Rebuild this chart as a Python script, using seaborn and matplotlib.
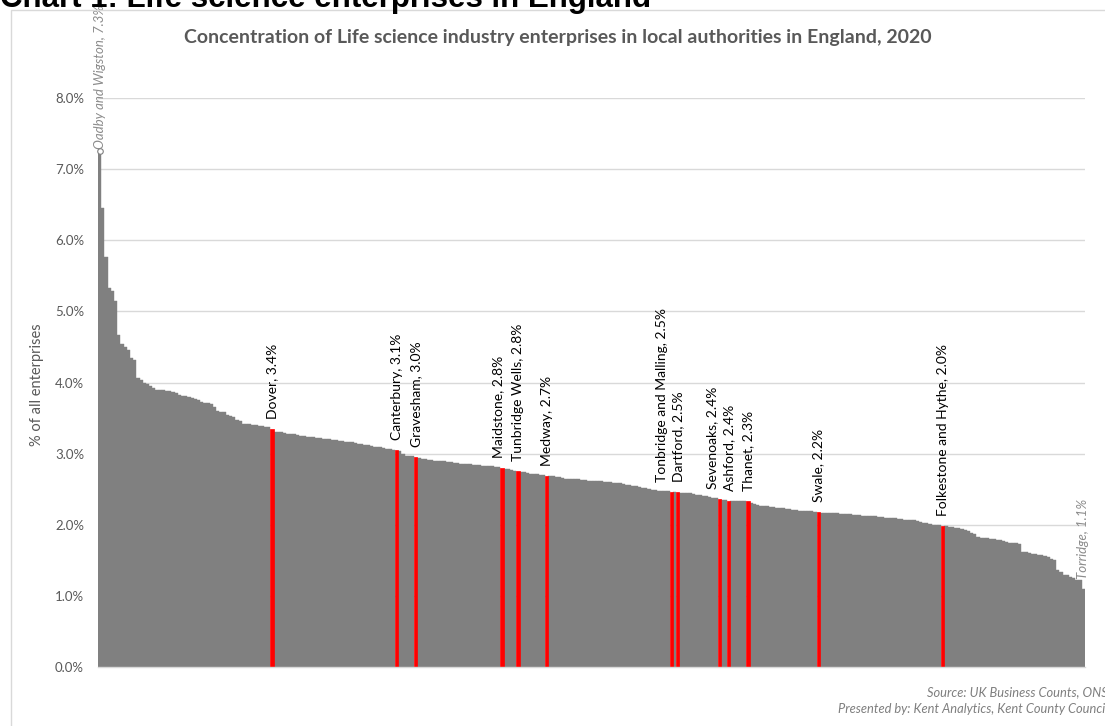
import matplotlib
matplotlib.use("Agg")
import matplotlib.pyplot as plt
import seaborn as sns
import pandas as pd
from matplotlib.patches import Rectangle

# ---------------- data ----------------
share = [
    7.25, 6.45, 5.77, 5.33, 5.28, 5.14, 4.67, 4.54, 4.50, 4.46,
    4.34, 4.32, 4.06, 4.04, 4.00, 3.98, 3.95, 3.92, 3.90, 3.89,
    3.89, 3.88, 3.88, 3.87, 3.85, 3.82, 3.81, 3.81, 3.80, 3.78,
    3.77, 3.76, 3.73, 3.71, 3.71, 3.70, 3.66, 3.60, 3.59, 3.58,
    3.54, 3.53, 3.51, 3.47, 3.46, 3.42, 3.41, 3.41, 3.40, 3.40,
    3.39, 3.39, 3.38, 3.37, 3.35, 3.31, 3.30, 3.30, 3.29, 3.28,
    3.27, 3.27, 3.26, 3.25, 3.25, 3.24, 3.23, 3.23, 3.22, 3.22,
    3.21, 3.21, 3.20, 3.19, 3.19, 3.18, 3.18, 3.17, 3.16, 3.16,
    3.15, 3.14, 3.13, 3.12, 3.12, 3.11, 3.10, 3.10, 3.09, 3.08,
    3.07, 3.06, 3.05, 3.05, 3.04, 2.99, 2.97, 2.97, 2.96, 2.95,
    2.94, 2.93, 2.92, 2.91, 2.91, 2.90, 2.90, 2.89, 2.89, 2.88,
    2.88, 2.87, 2.87, 2.86, 2.86, 2.85, 2.85, 2.84, 2.84, 2.84,
    2.83, 2.83, 2.82, 2.82, 2.81, 2.81, 2.80, 2.79, 2.78, 2.77,
    2.76, 2.75, 2.74, 2.74, 2.73, 2.72, 2.72, 2.71, 2.70, 2.70,
    2.69, 2.68, 2.68, 2.67, 2.67, 2.66, 2.65, 2.65, 2.64, 2.64,
    2.64, 2.63, 2.63, 2.62, 2.62, 2.62, 2.61, 2.61, 2.60, 2.60,
    2.60, 2.59, 2.59, 2.58, 2.57, 2.56, 2.56, 2.55, 2.54, 2.53,
    2.52, 2.51, 2.50, 2.49, 2.49, 2.48, 2.48, 2.47, 2.47, 2.46,
    2.46, 2.46, 2.45, 2.45, 2.44, 2.44, 2.43, 2.42, 2.42, 2.41,
    2.40, 2.39, 2.38, 2.37, 2.36, 2.35, 2.35, 2.34, 2.34, 2.34,
    2.33, 2.33, 2.33, 2.33, 2.30, 2.29, 2.28, 2.27, 2.27, 2.26,
    2.25, 2.25, 2.24, 2.24, 2.23, 2.22, 2.22, 2.21, 2.21, 2.20,
    2.20, 2.19, 2.19, 2.19, 2.18, 2.18, 2.17, 2.17, 2.17, 2.16,
    2.16, 2.16, 2.15, 2.15, 2.15, 2.15, 2.14, 2.14, 2.14, 2.13,
    2.13, 2.12, 2.12, 2.12, 2.11, 2.11, 2.10, 2.10, 2.09, 2.09,
    2.08, 2.08, 2.07, 2.07, 2.06, 2.06, 2.05, 2.04, 2.03, 2.02,
    2.01, 2.00, 1.99, 1.99, 1.98, 1.98, 1.97, 1.97, 1.96, 1.96,
    1.94, 1.93, 1.91, 1.88, 1.87, 1.83, 1.82, 1.81, 1.81, 1.80,
    1.80, 1.79, 1.78, 1.77, 1.76, 1.75, 1.74, 1.74, 1.73, 1.62,
    1.61, 1.60, 1.59, 1.59, 1.58, 1.57, 1.56, 1.55, 1.52, 1.50,
    1.37, 1.34, 1.30, 1.29, 1.27, 1.25, 1.23, 1.22, 1.09,
]

kent_names = ["Dover", "Canterbury", "Gravesham", "Maidstone", "Tunbridge Wells",
              "Medway", "Tonbridge and Malling", "Dartford", "Sevenoaks", "Ashford",
              "Thanet", "Swale", "Folkestone and Hythe"]
kent_rank = [54, 93, 99, 126, 131, 140, 179, 181, 194, 197, 203, 225, 264]
kent_pct = ["3.4%", "3.1%", "3.0%", "2.8%", "2.8%", "2.7%", "2.5%", "2.5%",
            "2.4%", "2.4%", "2.3%", "2.2%", "2.0%"]

top_name, top_pct = "Oadby and Wigston", "7.3%"
bottom_name, bottom_pct = "Torridge", "1.1%"

yticks = [0, 1, 2, 3, 4, 5, 6, 7, 8]

title = "Concentration of Life science industry enterprises in local authorities in England, 2020"
heading = "Chart 1: Life science enterprises in England"
ylabel = "% of all enterprises"
source1 = "Source: UK Business Counts, ONS"
source2 = "Presented by: Kent Analytics, Kent County Council"

# ---------------- styling ----------------
sns.set_theme(style="white")
plt.rcParams["font.family"] = ["Lato", "DejaVu Sans"]

GRAY = "#808080"
RED = "#ff0000"
TXT = "#595959"
GRID = "#d9d9d9"

n = len(share)
df = pd.DataFrame({
    "rank": list(range(n)),
    "share": share,
    "group": ["Kent" if i in kent_rank else "Other" for i in range(n)],
})

fig = plt.figure(figsize=(11.05, 7.26), dpi=100)
W, H = 1105, 726
ax = fig.add_axes([98 / W, 1 - 667 / H, 987 / W, (667 - 98) / H])

sns.barplot(data=df, x="rank", y="share", hue="group",
            palette={"Kent": RED, "Other": GRAY}, dodge=False, width=1.0,
            saturation=1, legend=False, ax=ax, zorder=2)

for p in ax.patches:
    fc = p.get_facecolor()
    p.set_edgecolor(fc)
    if fc[0] > 0.9 and fc[1] < 0.2:
        p.set_linewidth(0.5)
        p.set_zorder(3)
    else:
        p.set_linewidth(0.3)

ax.set_ylim(0, 8)
ax.set_xlim(-0.5, n - 0.5)
ax.set_yticks(yticks)
ax.set_yticklabels([f"{v:.1f}%" for v in yticks], color=TXT, fontsize=9.5)
ax.set_xticks([])
ax.set_xlabel("")
ax.set_ylabel("")
ax.tick_params(axis="y", length=0, pad=10)
ax.yaxis.grid(True, color=GRID, linewidth=1.0, zorder=0)
ax.set_axisbelow(True)
for s in ["top", "right", "left"]:
    ax.spines[s].set_visible(False)
ax.spines["bottom"].set_color(GRID)
ax.spines["bottom"].set_linewidth(1.0)
ax.spines["bottom"].set_zorder(4)

# Kent labels
dx_px = {"Maidstone": -4, "Tonbridge and Malling": -9, "Sevenoaks": -7}
for name, r, pct in zip(kent_names, kent_rank, kent_pct):
    ax.annotate(f"{name}, {pct}", xy=(r, share[r]),
                xytext=(dx_px.get(name, 0) * 0.72, 7.2), textcoords="offset points",
                rotation=90, ha="center", va="bottom", fontsize=10, color="black",
                annotation_clip=False)

# extreme labels
ax.plot([0], [share[0]], marker="o", ms=4, mfc="white", mec=GRAY, mew=0.8,
        zorder=5, clip_on=False)
ax.annotate(f"{top_name}, {top_pct}", xy=(0, share[0]), xytext=(0, 2),
            textcoords="offset points", rotation=90, ha="center", va="bottom",
            fontsize=9.5, color="#8c8c8c", style="italic", annotation_clip=False)
ax.annotate(f"{bottom_name}, {bottom_pct}", xy=(n - 1, share[-1]), xytext=(0, 7.2),
            textcoords="offset points", rotation=90, ha="center", va="bottom",
            fontsize=9.5, color="#8c8c8c", style="italic", annotation_clip=False)

# figure texts
fig.patches.append(Rectangle((11 / W, -0.2), 1.5, 1.2 - 10 / H,
                             transform=fig.transFigure, fill=False,
                             edgecolor=GRID, linewidth=1.0, zorder=0))
fig.text(0.0, 1 - 7 / H, heading, fontsize=22.5, fontweight="bold", color="black",
         family=["Liberation Sans", "DejaVu Sans"], ha="left", va="baseline")
fig.text(558 / W, 1 - 38 / H, title, fontsize=14, fontweight="bold", color=TXT,
         ha="center", va="center")
fig.text(37 / W, 1 - 385 / H, ylabel, rotation=90, fontsize=10.5, color=TXT,
         ha="center", va="center")
fig.text(1108 / W, 1 - 692 / H, source1, fontsize=9.3, style="italic", color="#7f7f7f",
         ha="right", va="center")
fig.text(1108 / W, 1 - 709 / H, source2, fontsize=9.3, style="italic", color="#7f7f7f",
         ha="right", va="center")

fig.savefig("out.png", dpi=100)
